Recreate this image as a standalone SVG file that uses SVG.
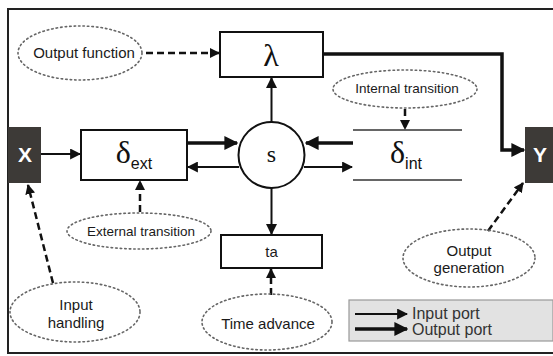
<svg xmlns="http://www.w3.org/2000/svg" width="553" height="356" viewBox="0 0 553 356">
<defs>
<marker id="ah" viewBox="0 0 10 10" refX="9" refY="5" markerWidth="4" markerHeight="4" markerUnits="strokeWidth" orient="auto"><path d="M0,0 L10,5 L0,10 z" fill="#111"/></marker>
<marker id="ahs" viewBox="0 0 10 10" refX="9" refY="5" markerWidth="5.5" markerHeight="5.5" markerUnits="strokeWidth" orient="auto"><path d="M0,0 L10,5 L0,10 z" fill="#111"/></marker>
<marker id="ahd" viewBox="0 0 10 10" refX="9" refY="5" markerWidth="4" markerHeight="4" markerUnits="strokeWidth" orient="auto"><path d="M0,0 L10,5 L0,10 z" fill="#111"/></marker>
</defs>
<style>
.box{fill:#fff;stroke:#111;stroke-width:2}
.port{fill:#3d3a37}
.portt{fill:#fff;font-family:"Liberation Sans",Arial,sans-serif;font-weight:bold;font-size:21px;text-anchor:middle}
.ell{fill:none;stroke:#666;stroke-width:1.6;stroke-dasharray:1.5 3;stroke-linecap:round}
.lbl{font-family:"Liberation Sans",Arial,sans-serif;fill:#1a1a1a;text-anchor:middle}
.greek{font-family:"Liberation Serif","Times New Roman",serif;fill:#111;text-anchor:middle}
.sub{font-family:"Liberation Sans",Arial,sans-serif}
.thin{stroke:#111;stroke-width:2;fill:none;marker-end:url(#ahs)}
.thick{stroke:#111;stroke-width:3.5;fill:none;marker-end:url(#ah)}
.dash{stroke:#111;stroke-width:2.5;fill:none;stroke-dasharray:7 4;marker-end:url(#ahd)}
.leg{font-family:"Liberation Sans",Arial,sans-serif;font-size:16px;fill:#333}
</style>
<rect x="0" y="0" width="553" height="356" fill="#fff"/>
<rect x="8" y="9" width="548" height="344" fill="none" stroke="#222" stroke-width="2"/>

<g id="connectors">
<line class="thin" x1="41" y1="154" x2="80" y2="154"/>
<line class="thick" x1="187" y1="143" x2="237" y2="143"/>
<line class="thin" x1="239" y1="167" x2="188" y2="167"/>
<line class="thick" x1="353" y1="143" x2="306" y2="143"/>
<line class="thin" x1="304" y1="167" x2="352" y2="167"/>
<line class="thin" x1="271.5" y1="122" x2="271.5" y2="78"/>
<line class="thin" x1="271.5" y1="188" x2="271.5" y2="234"/>
<polyline class="thick" points="323,54 502,54 502,150 524,150"/>
<line class="dash" x1="146" y1="53" x2="219" y2="53"/>
<line class="dash" x1="405" y1="109" x2="405" y2="129"/>
<line class="dash" x1="140" y1="212" x2="140" y2="181"/>
<line class="dash" x1="271" y1="295" x2="271" y2="269"/>
<line class="dash" x1="53" y1="283" x2="28" y2="185"/>
<line class="dash" x1="488" y1="231" x2="523" y2="183"/>
</g>

<g id="X"><rect class="port" x="8" y="127" width="33" height="56"/><text class="portt" x="25" y="162">X</text></g>
<g id="Y"><rect class="port" x="525" y="127" width="30" height="56"/><text class="portt" x="540" y="162">Y</text></g>

<g id="dext"><rect class="box" x="81" y="130" width="106" height="50"/>
<text class="greek" x="134" y="163" style="font-size:32px">δ<tspan class="sub" style="font-size:16px" dy="6">ext</tspan></text></g>

<g id="lambda"><rect class="box" x="220" y="32" width="103" height="45"/><text class="greek" x="271" y="66" style="font-size:32px">λ</text></g>

<g id="s"><circle cx="271.5" cy="155" r="33" fill="#fff" stroke="#111" stroke-width="2"/><text class="greek" x="271.5" y="162" style="font-size:24px">s</text></g>

<g id="dint"><line x1="353" y1="130" x2="462" y2="130" stroke="#333" stroke-width="1.6"/><line x1="353" y1="180" x2="462" y2="180" stroke="#333" stroke-width="1.6"/>
<text class="greek" x="406" y="163" style="font-size:32px">δ<tspan class="sub" style="font-size:16px" dy="6">int</tspan></text></g>

<g id="ta"><rect class="box" x="221" y="235" width="101" height="33"/><text class="lbl" x="271.5" y="257" style="font-size:15px">ta</text></g>

<g id="outfun"><ellipse class="ell" cx="80" cy="53" rx="62" ry="27"/><text class="lbl" x="84" y="58" style="font-size:15px">Output function</text></g>
<g id="inttr"><ellipse class="ell" cx="405" cy="89" rx="72" ry="19"/><text class="lbl" x="407" y="93" style="font-size:13.5px">Internal transition</text></g>
<g id="exttr"><ellipse class="ell" cx="139" cy="231" rx="72" ry="18"/><text class="lbl" x="141" y="236" style="font-size:13.5px">External transition</text></g>
<g id="outgen"><ellipse class="ell" cx="469" cy="258" rx="66" ry="29"/><text class="lbl" x="469" y="256" style="font-size:15px">Output</text><text class="lbl" x="469" y="273" style="font-size:15px">generation</text></g>
<g id="inhand"><ellipse class="ell" cx="75" cy="312" rx="65" ry="30"/><text class="lbl" x="76" y="310" style="font-size:15px">Input</text><text class="lbl" x="76" y="328" style="font-size:15px">handling</text></g>
<g id="timeadv"><ellipse class="ell" cx="267" cy="322" rx="65" ry="28"/><text class="lbl" x="268" y="329" style="font-size:15px">Time advance</text></g>

<g id="legend"><rect x="349" y="300" width="204" height="41" fill="#e2e2e2" stroke="#999" stroke-width="1.2"/>
<line class="thin" x1="355" y1="314" x2="407" y2="314"/>
<line class="thick" x1="355" y1="329" x2="407" y2="329"/>
<text class="leg" x="412" y="319">Input port</text>
<text class="leg" x="412" y="335">Output port</text></g>
</svg>
